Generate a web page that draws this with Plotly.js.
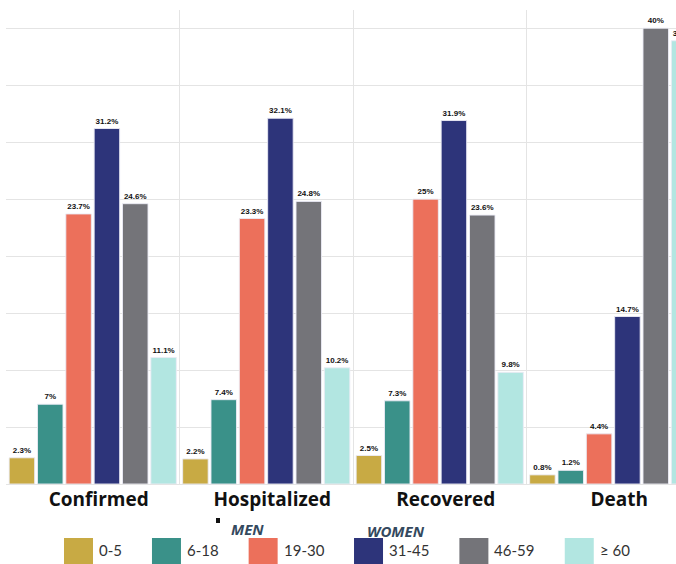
<!DOCTYPE html>
<html>
<head>
<meta charset="utf-8">
<script src="https://cdn.plot.ly/plotly-3.0.1.min.js"></script>
<style>
  html, body { margin: 0; padding: 0; background: #ffffff; overflow: hidden; }
  #chart { width: 676px; height: 564px; }
</style>
</head>
<body>
<div id="chart"></div>
<script>
// ---- data ----
var categories = ['Confirmed', 'Hospitalized', 'Recovered', 'Death'];
var ageGroups = ['0-5', '6-18', '19-30', '31-45', '46-59', '≥ 60'];
var age0_5   = [2.3, 2.2, 2.5, 0.8];
var age6_18  = [7, 7.4, 7.3, 1.2];
var age19_30 = [23.7, 23.3, 25, 4.4];
var age31_45 = [31.2, 32.1, 31.9, 14.7];
var age46_59 = [24.6, 24.8, 23.6, 40];
var age60    = [11.1, 10.2, 9.8, 38.9];
var seriesValues = [age0_5, age6_18, age19_30, age31_45, age46_59, age60];
var colors = ['#C8AA44', '#3A9189', '#EC705B', '#2D347A', '#747479', '#B2E6E1'];
var genderLabels = ['MEN', 'WOMEN'];

// ---- geometry helpers (pixels -> paper) ----
var W = 676, H = 564;
var M = {l: 6, r: 0, t: 10, b: 80};
var plotW = W - M.l - M.r, plotH = H - M.t - M.b;
function px(x) { return (x - M.l) / plotW; }
function py(y) { return (H - M.b - y) / plotH; }

var traces = ageGroups.map(function (name, i) {
  return {
    type: 'bar',
    name: name,
    x: categories,
    y: seriesValues[i],
    marker: {color: colors[i], line: {color: 'rgba(235,235,245,0.9)', width: 1}},
    text: seriesValues[i].map(function (v) { return v + '%'; }),
    textposition: 'outside',
    constraintext: 'none',
    textfont: {family: 'Liberation Sans, Arial, sans-serif', size: 8, color: '#111', weight: 700},
    showlegend: false,
    hoverinfo: 'x+y+name'
  };
});

// ---- custom legend (large swatches) ----
var canvas = document.createElement('canvas');
var ctx = canvas.getContext('2d');
ctx.font = '15px Lato';
var shapes = [], annotations = [];
var lx = 64, swW = 29, swTop = 538, swBot = 572;
ageGroups.forEach(function (name, i) {
  shapes.push({type: 'rect', xref: 'paper', yref: 'paper', layer: 'above',
    x0: px(lx), x1: px(lx + swW), y0: py(swBot), y1: py(swTop),
    fillcolor: colors[i], line: {width: 0}});
  annotations.push({xref: 'paper', yref: 'paper', x: px(lx + swW + 4), y: py(550),
    xanchor: 'left', yanchor: 'middle', showarrow: false, text: name,
    font: {family: 'Lato, sans-serif', size: 15, color: '#333'}});
  var tw = ctx.measureText(name).width;
  lx += swW + 4 + tw + 32;
});

// gender sub-labels
annotations.push({xref: 'paper', yref: 'paper', x: px(229), y: py(529), xanchor: 'left', yanchor: 'middle',
  showarrow: false, text: '<i><b>' + genderLabels[0] + '</b></i>',
  font: {family: 'Open Sans, sans-serif', size: 15, color: '#34495E'}});
annotations.push({xref: 'paper', yref: 'paper', x: px(365), y: py(531), xanchor: 'left', yanchor: 'middle',
  showarrow: false, text: '<i><b>' + genderLabels[1] + '</b></i>',
  font: {family: 'Open Sans, sans-serif', size: 15, color: '#34495E'}});
shapes.push({type: 'rect', xref: 'paper', yref: 'paper', layer: 'above',
  x0: px(216), x1: px(220), y0: py(523), y1: py(518), fillcolor: '#111', line: {width: 0}});

var catWidthPx = 173.5;
var layout = {
  width: W, height: H,
  margin: M,
  paper_bgcolor: '#ffffff', plot_bgcolor: '#ffffff',
  barmode: 'group',
  bargap: 0.02,
  bargroupgap: 0.1,
  xaxis: {
    type: 'category',
    range: [-0.5, -0.5 + plotW / catWidthPx],
    tickson: 'boundaries',
    ticks: '',
    showgrid: true, gridcolor: '#e4e4e4', gridwidth: 1,
    showline: false, zeroline: false,
    ticklabelshift: 6,
    ticklabelstandoff: 2,
    tickfont: {family: 'Open Sans, sans-serif', size: 19, color: '#111', weight: 700}
  },
  yaxis: {
    range: [0, 41.6],
    dtick: 5,
    showticklabels: false,
    ticks: '',
    showgrid: true, gridcolor: '#e4e4e4', gridwidth: 1,
    zeroline: true, zerolinecolor: '#e4e4e4', zerolinewidth: 1,
    showline: false
  },
  showlegend: false,
  shapes: shapes,
  annotations: annotations
};

Plotly.newPlot('chart', traces, layout, {displayModeBar: false, staticPlot: true});
</script>
</body>
</html>
